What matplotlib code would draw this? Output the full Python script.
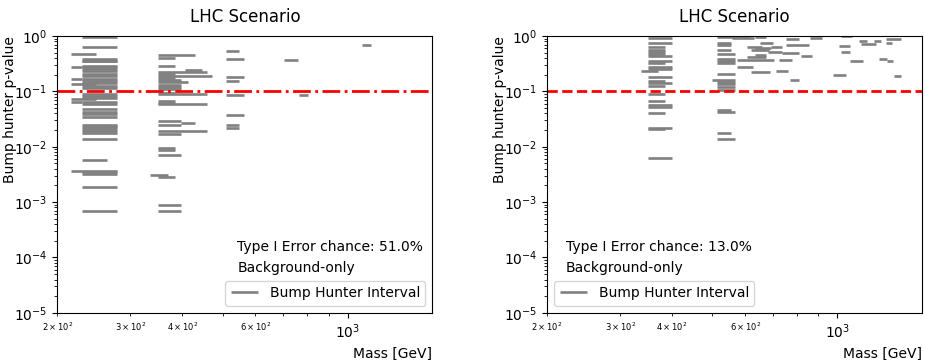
import numpy as np
import matplotlib
matplotlib.use("Agg")
import matplotlib.pyplot as plt

# bump hunter intervals: (mass low, mass high, p-value)
left_lo = [229, 229, 216, 229, 229, 229, 216, 229, 229, 229, 229, 229, 229, 229,
           216, 229, 229, 216, 229, 229, 229, 229, 229, 216, 216, 229, 229, 229,
           229, 229, 229, 229, 229, 263, 229, 229, 229, 229, 229, 216, 229, 229,
           229, 229,
           349, 349, 349, 405, 349, 349, 349, 349, 349, 349, 349, 349, 349, 349,
           349, 349, 349, 349, 349, 397, 349, 349, 349, 349, 349, 349, 334, 349,
           349, 349,
           509, 509, 509, 509, 509, 509, 509, 509,
           702, 762, 1084]
left_hi = [279, 279, 248, 279, 279, 279, 229, 279, 279, 279, 279, 279, 279, 279,
           229, 279, 279, 248, 279, 279, 279, 279, 279, 248, 229, 279, 279, 279,
           279, 279, 279, 279, 279, 279, 279, 279, 279, 279, 263, 279, 279, 279,
           279, 279,
           428, 383, 383, 445, 459, 383, 472, 383, 397, 412, 397, 397, 397, 383,
           459, 383, 383, 459, 397, 428, 397, 459, 397, 383, 383, 397, 369, 383,
           397, 397,
           548, 564, 564, 548, 564, 564, 548, 548,
           758, 801, 1140]
left_p = [0.95, 0.62, 0.48, 0.38, 0.36, 0.35, 0.27, 0.29, 0.27, 0.25, 0.23, 0.21,
          0.19, 0.17, 0.17, 0.155, 0.14, 0.135, 0.127, 0.115, 0.088, 0.082, 0.077,
          0.072, 0.063, 0.065, 0.06, 0.048, 0.043, 0.039, 0.035, 0.025, 0.023,
          0.024, 0.021, 0.019, 0.018, 0.014, 0.0057, 0.0037, 0.0035, 0.0032,
          0.0019, 0.00069,
          0.46, 0.40, 0.29, 0.245, 0.22, 0.205, 0.19, 0.175, 0.16, 0.146, 0.13,
          0.12, 0.11, 0.095, 0.088, 0.067, 0.062, 0.058, 0.029, 0.027, 0.025,
          0.0195, 0.017, 0.0094, 0.0086, 0.0071, 0.0031, 0.0028, 0.00089, 0.00069,
          0.54, 0.38, 0.18, 0.157, 0.086, 0.038, 0.025, 0.022,
          0.37, 0.087, 0.70]

right_lo = [350, 350, 350, 350, 350, 350, 350, 350, 350, 350, 350, 336, 350, 350,
            350, 350, 350, 350, 350, 350, 350, 350, 350, 350,
            513, 557, 632, 751, 858, 1018, 1125, 1306, 1222, 1137, 513, 513, 650,
            751, 1007, 1306, 605, 691, 632, 619, 513, 680, 1018, 735, 513, 632,
            816, 605, 1256, 572, 722, 1313, 1070, 513, 513, 513, 572, 710, 619,
            513, 974, 1365, 498, 768, 513, 513, 513, 513, 513, 513, 513, 513]
right_hi = [400, 400, 384, 384, 384, 384, 400, 400, 384, 400, 400, 370, 400, 384,
            400, 384, 384, 384, 400, 400, 384, 400, 384, 400,
            612, 629, 672, 807, 916, 1082, 1175, 1426, 1270, 1236, 554, 554, 698,
            853, 1070, 1350, 657, 735, 691, 683, 554, 735, 1070, 807, 566, 672,
            867, 672, 1313, 703, 776, 1358, 1150, 566, 566, 566, 626, 759, 687,
            566, 1047, 1426, 566, 807, 566, 566, 566, 566, 554, 566, 554, 566]
right_p = [0.93, 0.76, 0.62, 0.57, 0.52, 0.47, 0.43, 0.35, 0.33, 0.28, 0.25, 0.23,
           0.18, 0.153, 0.14, 0.124, 0.088, 0.067, 0.056, 0.053, 0.040, 0.022,
           0.021, 0.0063,
           0.95, 0.92, 0.95, 0.87, 0.92, 0.98, 0.81, 0.88, 0.81, 0.72, 0.74, 0.70,
           0.75, 0.69, 0.66, 0.74, 0.64, 0.63, 0.60, 0.55, 0.55, 0.52, 0.52, 0.50,
           0.48, 0.46, 0.43, 0.415, 0.39, 0.37, 0.37, 0.36, 0.35, 0.38, 0.35, 0.33,
           0.27, 0.23, 0.22, 0.21, 0.20, 0.19, 0.16, 0.16, 0.146, 0.134, 0.12,
           0.108, 0.046, 0.042, 0.0175, 0.0136]

titles = ["LHC Scenario", "LHC Scenario"]
error_text = ["Type I Error chance: 51.0%", "Type I Error chance: 13.0%"]
threshold = 0.1

fig, axs = plt.subplots(1, 2, figsize=(9.25, 3.6), dpi=100)
fig.subplots_adjust(left=0.062, right=0.997, top=0.9, bottom=0.131, wspace=0.306)

panels = [(left_lo, left_hi, left_p, '-.', (0.48, 0.224), 'lower right'),
          (right_lo, right_hi, right_p, '--', (0.05, 0.224), 'lower left')]

for ax, (lo, hi, p, ls, txt_pos, leg_loc), title, txt in zip(axs, panels, titles, error_text):
    ax.hlines(p, lo, hi, colors='grey', lw=1.9, label='Bump Hunter Interval')
    ax.axhline(threshold, color='red', ls=ls, lw=2)
    ax.set_xscale('log')
    ax.set_yscale('log')
    ax.set_xlim(200, 1600)
    ax.set_ylim(1e-5, 1)
    ax.set_title(title, fontsize=12, pad=10)
    ax.set_ylabel('Bump hunter p-value', fontsize=10, loc='top')
    ax.yaxis.set_label_coords(-0.108, 1.0)
    ax.set_xlabel('Mass [GeV]', fontsize=10, loc='right')
    ax.tick_params(axis='both', which='major', labelsize=10)
    ax.tick_params(axis='x', which='minor', labelsize=6)
    ax.text(txt_pos[0], txt_pos[1], txt, transform=ax.transAxes, fontsize=10)
    ax.text(txt_pos[0], txt_pos[1] - 0.076, 'Background-only', transform=ax.transAxes,
            fontsize=10)
    ax.legend(loc=leg_loc, fontsize=10)

fig.savefig('out.png')
